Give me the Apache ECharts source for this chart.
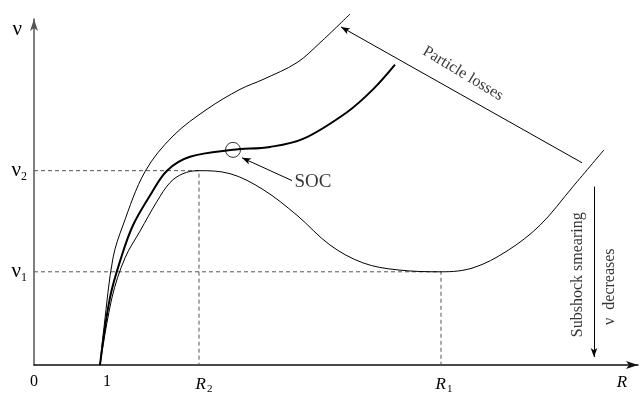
<!DOCTYPE html>
<html lang="en">
<head>
<meta charset="UTF-8">
<title>SOC diagram</title>
<style>
  *{margin:0;padding:0;}
  html,body{width:100%;height:100%;background:#fff;}
  #chart{width:641px;height:395px;}
</style>
</head>
<body>
<div id="chart"></div>
<script src="https://cdn.jsdelivr.net/npm/echarts@6/dist/echarts.min.js"></script>
<script>
// curves, [R, nu] in axis units
var outerCurve = [[66,0],[70,38],[79,108],[89,141],[111,195],[139,231],[173,258],[206,278],[229,288],[263,305],[286,325],[316,354]];
var thickCurve = [[66,0],[76,68],[88,111],[99,141],[116,171],[133,196],[156,210],[199,217],[236,220],[269,228],[313,255],[339,278],[361,303]];
var lowerCurve = [[66,0],[78,68],[91,108],[106,135],[123,165],[136,184],[149,193],[164,196],[196,193],[229,177],[263,151],[296,121],[329,103],[363,96],[407,94],[439,98],[473,115],[506,141],[539,180],[570,217]];

var socPoint = [199, 217];
var nu2 = 196, nu1 = 94, R2 = 165, R1 = 407;

var xTickVals = [0, 73, 170, 410, 588];
var xTickNames = ['0', '1', 'R2', 'R1', 'R'];
var yTickVals = [94, 196, 338];
var yTickNames = ['ν1', 'ν2', 'ν'];

// arrows: from -> to (head at "to")
var arrows = [
  [[258, 186], [208, 209]],
  [[548, 204], [307, 341]],
  [[560, 180], [560, 8]]
];
var notes = [
  ['SOC', 279, 185, 0],
  ['Particle losses', 429, 294, -31],
  ['Subshock smearing', 544, 91, 90],
  ['ν  decreases', 576, 79, 90]
];

var serif = '"Liberation Serif", "Times New Roman", Times, serif';

function curve(name, data, w) {
  return {
    name: name, type: 'line', data: data, smooth: 0.35,
    symbol: 'none', clip: false, silent: true,
    lineStyle: {color: '#000', width: w}
  };
}
function guide(data) {
  return {
    type: 'line', data: data, symbol: 'none', silent: true,
    lineStyle: {color: '#555', width: 1, type: [4, 3]}
  };
}

var option = {
  animation: false,
  backgroundColor: '#fff',
  grid: {left: 34, right: 3, top: 19, bottom: 27},
  xAxis: {
    type: 'value', min: 0, max: 604,
    splitLine: {show: false},
    axisTick: {show: false},
    axisLine: {lineStyle: {color: '#111', width: 1.5}, symbol: ['none', 'arrow'], symbolSize: [6, 12]},
    axisLabel: {
      customValues: xTickVals, margin: 9, color: '#000',
      formatter: function (v) {
        var n = xTickNames[xTickVals.indexOf(v)];
        if (n.charAt(0) === 'R') return '{i|R}' + (n.length > 1 ? '{s|' + n.slice(1) + '}' : '');
        return '{n|' + n + '}';
      },
      rich: {
        n: {fontFamily: serif, fontSize: 16, color: '#000'},
        i: {fontFamily: serif, fontStyle: 'italic', fontSize: 17, color: '#000'},
        s: {fontFamily: serif, fontSize: 11, color: '#000', padding: [10, 0, 0, 1]}
      }
    }
  },
  yAxis: {
    type: 'value', min: 0, max: 349,
    splitLine: {show: false},
    axisTick: {show: false},
    axisLine: {lineStyle: {color: '#555', width: 1.5}, symbol: ['none', 'arrow'], symbolSize: [6, 12]},
    axisLabel: {
      customValues: yTickVals, margin: 7, color: '#000',
      formatter: function (v) {
        var n = yTickNames[yTickVals.indexOf(v)];
        return '{g|ν}' + (n.length > 1 ? '{s|' + n.slice(1) + '}' : '{p|}');
      },
      rich: {
        g: {fontFamily: serif, fontSize: 21, color: '#000'},
        s: {fontFamily: serif, fontSize: 12, color: '#000', padding: [12, 0, 0, 0]},
        p: {width: 5}
      }
    }
  },
  series: [
    guide([[0, nu2], [R2, nu2], [R2, 0]]),
    guide([[0, nu1], [R1, nu1], [R1, 0]]),
    curve('outer', outerCurve, 1),
    curve('main', thickCurve, 2),
    curve('lower', lowerCurve, 1),
    {
      type: 'scatter', data: [socPoint], symbol: 'circle', symbolSize: 15, silent: true,
      itemStyle: {color: 'transparent', borderColor: '#000', borderWidth: 1}
    },
    {
      type: 'scatter', symbolSize: 0, silent: true,
      data: notes.map(function (n) {
        var d = {name: n[0], value: [n[1], n[2]], label: {rotate: n[3]}};
        if (n[0] === 'SOC') d.label.fontSize = 19;
        return d;
      }),
      label: {
        show: true, position: 'inside', formatter: '{b}', color: '#000',
        fontFamily: serif, fontSize: 16, align: 'center', verticalAlign: 'middle'
      },
      markLine: {
        silent: true, symbol: ['none', 'arrow'], symbolSize: [5, 9],
        label: {show: false},
        lineStyle: {color: '#000', width: 1, type: 'solid'},
        data: arrows.map(function (a) {
          return [{coord: a[0]}, {coord: a[1]}];
        })
      }
    }
  ]
};

var myChart = echarts.init(document.getElementById('chart'));
myChart.setOption(option);
</script>
</body>
</html>
